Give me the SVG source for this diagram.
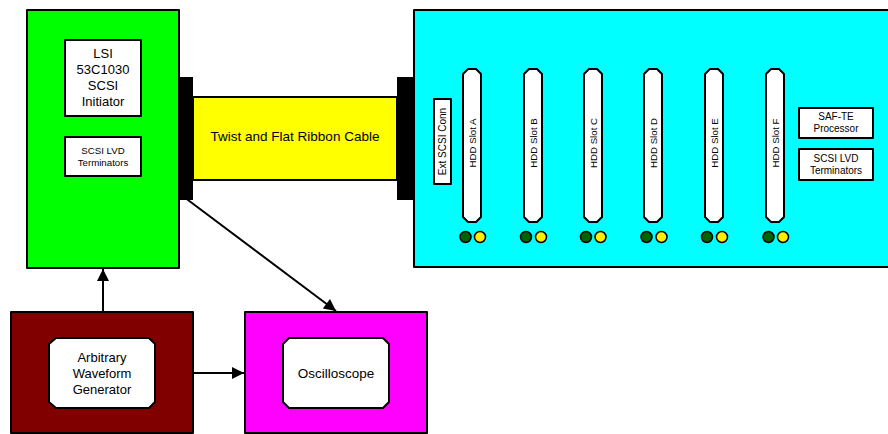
<svg xmlns="http://www.w3.org/2000/svg" width="888" height="434" viewBox="0 0 888 434">
<defs>
<style>
.b{stroke:#000;stroke-width:2;stroke-linejoin:round}
.w{fill:#fff}
.t{font-family:"Liberation Sans",Arial,sans-serif;fill:#000;text-anchor:middle}
.l13{font-size:13px}
.l10{font-size:9.7px}
.slot{fill:#fff;stroke:#000;stroke-width:2;stroke-linejoin:round}
.ledg{fill:#006400;stroke:#000;stroke-width:1.5}
.ledy{fill:#ffee00;stroke:#000;stroke-width:1.5}
.c{stroke:#000;stroke-width:2;fill:none}
</style>
<marker id="ah" viewBox="0 0 10 10" refX="10" refY="5" markerWidth="7" markerHeight="6" markerUnits="strokeWidth" orient="auto">
<path d="M0,0 L10,5 L0,10 Z" fill="#000"/>
</marker>
</defs>
<rect width="888" height="434" fill="#fff"/>

<g id="host">
<rect x="27" y="10" width="152" height="258" fill="#00ff00" class="b"/>
<g id="lsi">
<rect x="65" y="40" width="76" height="76" class="b w"/>
<text class="t l13" x="103" y="58">LSI</text>
<text class="t l13" x="103" y="74">53C1030</text>
<text class="t l13" x="103" y="90">SCSI</text>
<text class="t l13" x="103" y="106">Initiator</text>
</g>
<g id="hostterm">
<rect x="65" y="137" width="76" height="39" class="b w"/>
<text class="t l10" x="103" y="154">SCSI LVD</text>
<text class="t l10" x="103" y="166">Terminators</text>
</g>
</g>

<g id="cable">
<rect x="193" y="97" width="204" height="83" fill="#ffff00" class="b"/>
<text class="t" style="font-size:13.5px" x="295" y="141">Twist and Flat Ribbon Cable</text>
<rect x="179" y="77" width="14" height="123" fill="#000"/>
<rect x="397" y="77" width="16" height="123" fill="#000"/>
</g>

<g id="enclosure">
<rect x="414" y="10" width="480" height="257" fill="#00ffff" class="b"/>
<g id="extconn">
<rect x="434" y="99" width="17" height="85" class="b w"/>
<text class="t" style="font-size:10px" transform="translate(442.5,141.5) rotate(-90)" y="3.6">Ext  SCSI Conn</text>
</g>
<g id="slotA">
<path class="slot" d="M468,69 H476 L481,74 V217 L476,222 H468 L463,217 V74 Z"/>
<text class="t l10" transform="translate(472,143) rotate(-90)" y="3.5">HDD Slot A</text>
<circle class="ledg" cx="465.5" cy="237" r="5.5"/><circle class="ledy" cx="480" cy="237" r="5.5"/>
</g>
<g id="slotB">
<path class="slot" d="M529,69 H537 L542,74 V217 L537,222 H529 L524,217 V74 Z"/>
<text class="t l10" transform="translate(533,143) rotate(-90)" y="3.5">HDD Slot B</text>
<circle class="ledg" cx="526" cy="237" r="5.5"/><circle class="ledy" cx="541" cy="237" r="5.5"/>
</g>
<g id="slotC">
<path class="slot" d="M589,69 H597 L602,74 V217 L597,222 H589 L584,217 V74 Z"/>
<text class="t l10" transform="translate(593,143) rotate(-90)" y="3.5">HDD Slot C</text>
<circle class="ledg" cx="586" cy="237" r="5.5"/><circle class="ledy" cx="600.5" cy="237" r="5.5"/>
</g>
<g id="slotD">
<path class="slot" d="M649,69 H657 L662,74 V217 L657,222 H649 L644,217 V74 Z"/>
<text class="t l10" transform="translate(653,143) rotate(-90)" y="3.5">HDD Slot D</text>
<circle class="ledg" cx="646.5" cy="237" r="5.5"/><circle class="ledy" cx="661.5" cy="237" r="5.5"/>
</g>
<g id="slotE">
<path class="slot" d="M710,69 H718 L723,74 V217 L718,222 H710 L705,217 V74 Z"/>
<text class="t l10" transform="translate(714,143) rotate(-90)" y="3.5">HDD Slot E</text>
<circle class="ledg" cx="707" cy="237" r="5.5"/><circle class="ledy" cx="722" cy="237" r="5.5"/>
</g>
<g id="slotF">
<path class="slot" d="M771,69 H779 L784,74 V217 L779,222 H771 L766,217 V74 Z"/>
<text class="t l10" transform="translate(775,143) rotate(-90)" y="3.5">HDD Slot F</text>
<circle class="ledg" cx="768.5" cy="237" r="5.5"/><circle class="ledy" cx="783" cy="237" r="5.5"/>
</g>
<g id="safte">
<rect x="799" y="108" width="74" height="30" class="b w"/>
<text class="t" style="font-size:10px" x="836" y="120">SAF-TE</text>
<text class="t" style="font-size:10px" x="836" y="132">Processor</text>
</g>
<g id="encterm">
<rect x="799" y="149" width="74" height="31" class="b w"/>
<text class="t" style="font-size:10px" x="836" y="162">SCSI LVD</text>
<text class="t" style="font-size:10px" x="836" y="173.5">Terminators</text>
</g>
</g>

<g id="awg">
<rect x="11" y="312" width="182" height="121" fill="#800000" class="b"/>
<path class="b w" d="M56,338 H149 L155,344 V402 L149,408 H56 L49,402 V344 Z"/>
<text class="t l13" x="102" y="362">Arbitrary</text>
<text class="t l13" x="102" y="377.5">Waveform</text>
<text class="t l13" x="102" y="393.5">Generator</text>
</g>

<g id="scope">
<rect x="245" y="312" width="182" height="121" fill="#ff00ff" class="b"/>
<path class="b w" d="M289,338 H383 L389,344 V402 L383,408 H289 L283,402 V344 Z"/>
<text class="t" style="font-size:13.5px" x="336" y="378">Oscilloscope</text>
</g>

<g id="connectors">
<line class="c" x1="103" y1="311" x2="103" y2="269" marker-end="url(#ah)"/>
<line class="c" x1="193" y1="373" x2="244" y2="373" marker-end="url(#ah)"/>
<line class="c" x1="184" y1="197" x2="336" y2="311" marker-end="url(#ah)"/>
</g>
</svg>
